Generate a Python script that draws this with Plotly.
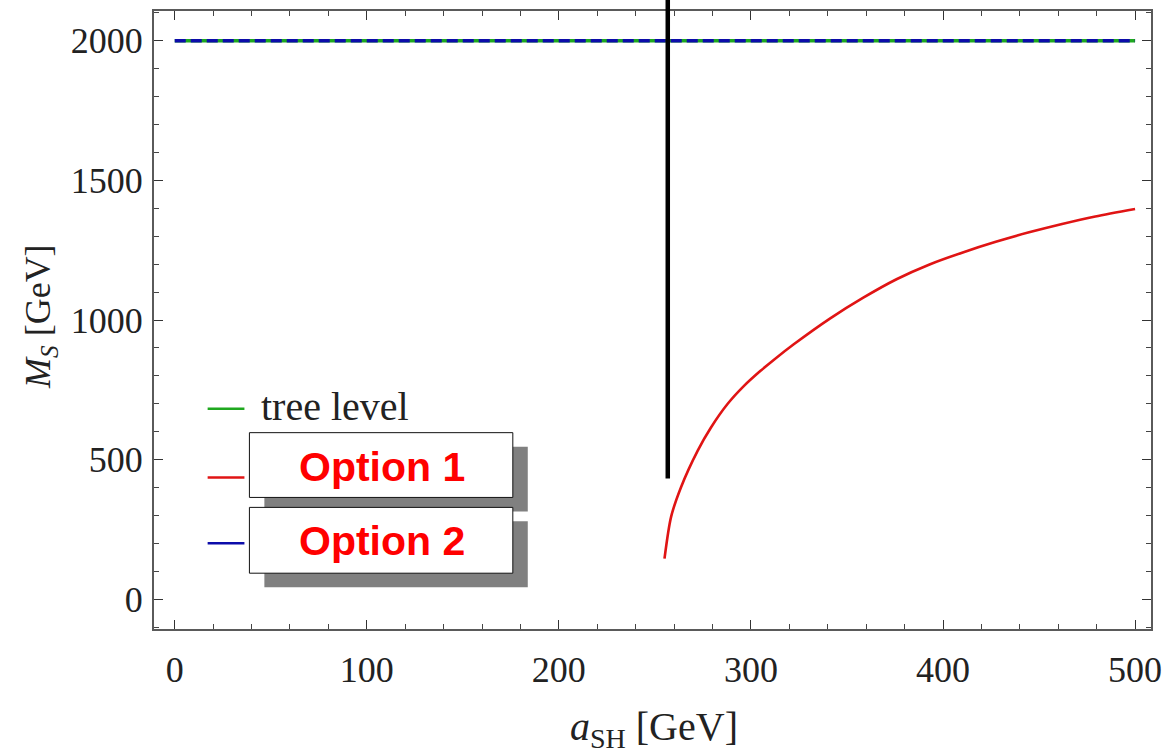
import plotly.graph_objects as go

# ---- data ----
tree_x = [0, 500]
tree_y = [2000, 2000]
opt2_x = [0, 500]
opt2_y = [2000, 2000]
opt1_x = [255.0, 258.4, 263.6, 272.3, 279.2, 287.8, 296.4, 305.0, 312.0, 322.3, 341.3,
          358.5, 375.8, 393.0, 410.3, 427.5, 444.8, 462.0, 479.3, 500.0]
opt1_y = [145, 294, 401, 532, 615, 699, 764, 818, 858, 913, 1006,
          1080, 1146, 1199, 1242, 1280, 1314, 1344, 1371, 1398]
threshold_x = 256.7
threshold_y0 = 432
x_range = [-10.8, 508.3]
y_range = [-107, 2107]
x_ticks = [0, 100, 200, 300, 400, 500]
y_ticks = [0, 500, 1000, 1500, 2000]
legend_labels = ["tree level", "Option 1", "Option 2"]

GREEN = "#1fa81f"
RED = "#e01414"
BLUE = "#0c0caa"
SERIF = "Liberation Serif"

fig = go.Figure()
fig.add_trace(go.Scatter(x=tree_x, y=tree_y, mode="lines",
                         line=dict(color=GREEN, width=3.5), showlegend=False))
fig.add_trace(go.Scatter(x=opt2_x, y=opt2_y, mode="lines",
                         line=dict(color=BLUE, width=3.5, dash="11px,5px"), showlegend=False))
fig.add_trace(go.Scatter(x=opt1_x, y=opt1_y, mode="lines",
                         line=dict(color=RED, width=2.6, shape="spline", smoothing=0.8),
                         showlegend=False))

axis_common = dict(
    showline=True, linecolor="#5a5a5a", linewidth=2, mirror="ticks",
    ticks="inside", ticklen=9, tickwidth=1.3, tickcolor="#333",
    showgrid=False, zeroline=False,
    tickfont=dict(family=SERIF, size=36, color="#222"),
)

fig.update_xaxes(range=x_range, tickvals=x_ticks, ticklabelstandoff=8,
                 minor=dict(dtick=20, ticks="inside", ticklen=5, tickwidth=1, tickcolor="#444"),
                 **axis_common)
fig.update_yaxes(range=y_range, tickvals=y_ticks, ticklabelstandoff=2,
                 minor=dict(dtick=100, ticks="inside", ticklen=5, tickwidth=1, tickcolor="#444"),
                 **axis_common)

shapes = []
# vertical threshold line extending above plot frame
y0_paper = (threshold_y0 - y_range[0]) / (y_range[1] - y_range[0])
shapes.append(dict(type="line", xref="x", yref="paper", x0=threshold_x, x1=threshold_x,
                   y0=y0_paper, y1=1.03, line=dict(color="black", width=4.5)))

# legend line samples
for yy, col in [(0.3565, GREEN), (0.2452, RED), (0.1387, BLUE)]:
    shapes.append(dict(type="line", xref="paper", yref="paper", x0=0.0538, x1=0.0907,
                       y0=yy, y1=yy, line=dict(color=col, width=2.5)))

# boxes with shadows
for (top, bot) in [(0.3177, 0.2129), (0.1968, 0.0903)]:
    shapes.append(dict(type="rect", xref="paper", yref="paper",
                       x0=0.1107, x1=0.3749, y0=bot - 0.0226, y1=top - 0.0226,
                       fillcolor="#808080", line=dict(width=0)))
    shapes.append(dict(type="rect", xref="paper", yref="paper",
                       x0=0.0957, x1=0.3599, y0=bot, y1=top,
                       fillcolor="white", line=dict(color="#111", width=1)))

annotations = [
    dict(text=legend_labels[0], xref="paper", yref="paper", x=0.1057, y=0.3597,
         xanchor="left", yanchor="middle", showarrow=False,
         font=dict(family=SERIF, size=40, color="#222")),
    dict(text="<b>" + legend_labels[1] + "</b>", xref="paper", yref="paper", x=0.2283, y=0.2629,
         xanchor="center", yanchor="middle", showarrow=False,
         font=dict(family="Liberation Sans", size=41, color="#ff0000")),
    dict(text="<b>" + legend_labels[2] + "</b>", xref="paper", yref="paper", x=0.2283, y=0.1419,
         xanchor="center", yanchor="middle", showarrow=False,
         font=dict(family="Liberation Sans", size=41, color="#ff0000")),
    dict(text="<i>M<sub>S</sub></i> [GeV]", xref="paper", yref="paper", x=-0.1137, y=0.506,
         xanchor="center", yanchor="middle", textangle=-90, showarrow=False,
         font=dict(family=SERIF, size=36, color="#222")),
    dict(text="<i>a</i><sub>SH</sub> [GeV]", xref="paper", yref="paper", x=0.5015, y=-0.206,
         xanchor="center", yanchor="bottom", showarrow=False,
         font=dict(family=SERIF, size=40, color="#222")),
]

fig.update_layout(
    width=1171, height=756,
    margin=dict(l=154, r=14, t=9, b=127),
    paper_bgcolor="white", plot_bgcolor="white",
    shapes=shapes, annotations=annotations,
    showlegend=False,
)

fig.write_html("out.html")
